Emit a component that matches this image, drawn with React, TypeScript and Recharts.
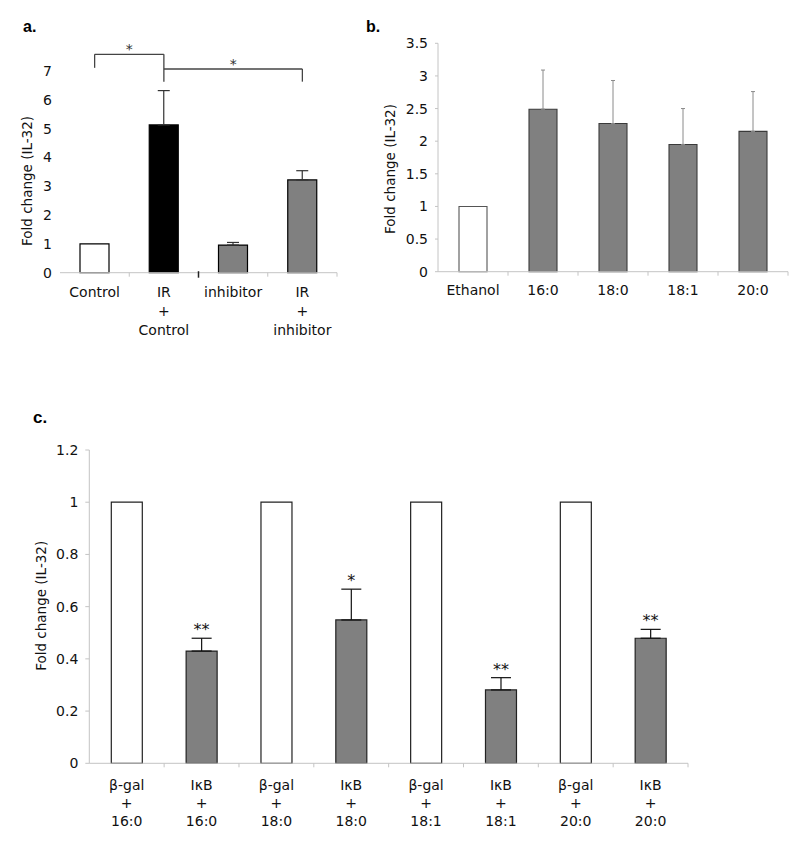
import React from 'react';
import {
  BarChart,
  Bar,
  XAxis,
  YAxis,
  Cell,
  ErrorBar,
  ReferenceLine,
  ReferenceDot,
} from 'recharts';

const FONT = '"DejaVu Sans", "Noto Sans", sans-serif';
const TITLE_FONT = '"Liberation Sans", Arial, sans-serif';

// ---------- Panel a ----------
const A_CATEGORIES = ['Control', 'IR + Control', 'inhibitor', 'IR + inhibitor'];
const A_VALUES = [1.0, 5.13, 0.96, 3.22];
const A_ERRORS = [null, 1.19, 0.09, 0.32];
const A_TICKS = [0, 1, 2, 3, 4, 5, 6, 7];
const A_BRACKETS = [
  { from: 'Control', to: 'IR + Control', level: 7.58, fromEnd: 7.11, toEnd: 6.63, label: '*' },
  { from: 'IR + Control', to: 'IR + inhibitor', level: 7.07, fromEnd: 7.07, toEnd: 6.63, label: '*' },
];

// ---------- Panel b ----------
const B_CATEGORIES = ['Ethanol', '16:0', '18:0', '18:1', '20:0'];
const B_VALUES = [1.0, 2.49, 2.27, 1.95, 2.15];
const B_ERRORS = [null, 0.6, 0.66, 0.55, 0.61];
const B_TICKS = [0, 0.5, 1, 1.5, 2, 2.5, 3, 3.5];

// ---------- Panel c ----------
const C_CATEGORIES = [
  'β-gal + 16:0',
  'IκB + 16:0',
  'β-gal + 18:0',
  'IκB + 18:0',
  'β-gal + 18:1',
  'IκB + 18:1',
  'β-gal + 20:0',
  'IκB + 20:0',
];
const C_VALUES = [1, 0.43, 1, 0.549, 1, 0.281, 1, 0.479];
const C_ERRORS = [null, 0.049, null, 0.118, null, 0.047, null, 0.034];
const C_SIGNIFICANCE = [null, '**', null, '*', null, '**', null, '**'];
const C_TICKS = [0, 0.2, 0.4, 0.6, 0.8, 1, 1.2];

// ---------- styles (kept apart from data) ----------
const A_FILLS = ['#ffffff', '#000000', '#808080', '#808080'];
const B_FILLS = ['#ffffff', '#808080', '#808080', '#808080', '#808080'];
const B_STROKES = ['#555555', '#3a3a3a', '#3a3a3a', '#3a3a3a', '#3a3a3a'];
const C_FILLS = ['#ffffff', '#808080'];

const AXIS_GRAY = '#c4c4c4';

const toRows = (cats: string[], vals: number[], errs: (number | null)[]) =>
  cats.map((name, i) => ({
    name,
    value: vals[i],
    err: errs[i] == null ? null : [0, errs[i] as number],
  }));

const aData = toRows(A_CATEGORIES, A_VALUES, A_ERRORS);
const bData = toRows(B_CATEGORIES, B_VALUES, B_ERRORS);
const cData = toRows(C_CATEGORIES, C_VALUES, C_ERRORS);

function CatTick(props: any) {
  const { x, y, payload, half, margin, lineGap, sepIndex, fontSize } = props;
  const index = props.index ?? payload?.index;
  const raw = String(payload.value);
  const parts = raw.includes(' + ')
    ? raw.split(' + ').flatMap((s: string, i: number) => (i === 0 ? [s] : ['+', s]))
    : [raw];
  const axisY = y - margin;
  const isSep = sepIndex !== undefined && index === sepIndex;
  return (
    <g>
      <line
        x1={x + half}
        x2={x + half}
        y1={isSep ? axisY - 1.5 : axisY}
        y2={axisY + (isSep ? 5 : 4)}
        stroke={isSep ? '#222' : AXIS_GRAY}
        strokeWidth={isSep ? 1.5 : 1}
      />
      <text x={x} y={y} textAnchor="middle" fontSize={fontSize} fontFamily={FONT} fill="#111">
        {parts.map((p: string, i: number) => (
          <tspan key={i} x={x} dy={i === 0 ? '0.71em' : lineGap}>
            {p}
          </tspan>
        ))}
      </text>
    </g>
  );
}

const yTick = { fontSize: 14, fill: '#111', fontFamily: FONT };

function PanelA() {
  const width = 360;
  const height = 345;
  const margin = { top: 71, right: 23, left: 0, bottom: 12.3 };
  const yw = 60;
  const half = (width - margin.right - margin.left - yw) / A_CATEGORIES.length / 2;
  return (
    <BarChart width={width} height={height} data={aData} margin={margin}>
      <XAxis
        dataKey="name"
        height={60}
        interval={0}
        axisLine={{ stroke: AXIS_GRAY }}
        tickLine={false}
        tickSize={0}
        tickMargin={14.3}
        tick={(p: any) => (
          <CatTick {...p} half={half} margin={14.3} lineGap={18.8} sepIndex={1} fontSize={14} />
        )}
      />
      <YAxis
        type="number"
        domain={[0, 7]}
        ticks={A_TICKS}
        interval={0}
        width={yw}
        axisLine={false}
        tickLine={false}
        tickSize={6}
        tickMargin={2}
        tick={yTick}
      />
      <Bar dataKey="value" barSize={29} isAnimationActive={false}>
        {aData.map((d, i) => (
          <Cell key={d.name} fill={A_FILLS[i]} stroke="#000" strokeWidth={1.2} />
        ))}
        <ErrorBar dataKey="err" direction="y" width={6} stroke="#333" strokeWidth={1.2} isAnimationActive={false} />
      </Bar>
      {A_BRACKETS.map((b, i) => (
        <ReferenceLine
          key={`h${i}`}
          segment={[
            { x: b.from, y: b.level },
            { x: b.to, y: b.level },
          ]}
          stroke="#444"
          strokeWidth={1.3}
          ifOverflow="visible"
          label={{ value: b.label, position: 'top', offset: 0, fontSize: 14, fill: '#333', fontFamily: FONT }}
        />
      ))}
      {A_BRACKETS.filter((b) => b.fromEnd !== b.level).map((b, i) => (
        <ReferenceLine
          key={`l${i}`}
          segment={[
            { x: b.from, y: b.level },
            { x: b.from, y: b.fromEnd },
          ]}
          stroke="#444"
          strokeWidth={1.3}
          ifOverflow="visible"
        />
      ))}
      {A_BRACKETS.map((b, i) => (
        <ReferenceLine
          key={`r${i}`}
          segment={[
            { x: b.to, y: b.level },
            { x: b.to, y: b.toEnd },
          ]}
          stroke="#444"
          strokeWidth={1.3}
          ifOverflow="visible"
        />
      ))}
    </BarChart>
  );
}

function PanelB() {
  const width = 430;
  const height = 345;
  const margin = { top: 43.3, right: 12, left: 0, bottom: 13.3 };
  const yw = 68;
  const half = (width - margin.right - margin.left - yw) / B_CATEGORIES.length / 2;
  return (
    <BarChart width={width} height={height} data={bData} margin={margin}>
      <XAxis
        dataKey="name"
        height={60}
        interval={0}
        axisLine={{ stroke: AXIS_GRAY }}
        tickLine={false}
        tickSize={0}
        tickMargin={13.3}
        tick={(p: any) => <CatTick {...p} half={half} margin={13.3} lineGap={18.8} fontSize={14} />}
      />
      <YAxis
        type="number"
        domain={[0, 3.5]}
        ticks={B_TICKS}
        interval={0}
        width={yw}
        axisLine={{ stroke: AXIS_GRAY }}
        tickLine={{ stroke: AXIS_GRAY }}
        tickSize={3}
        tickMargin={7}
        tick={yTick}
      />
      <Bar dataKey="value" barSize={28} isAnimationActive={false}>
        {bData.map((d, i) => (
          <Cell key={d.name} fill={B_FILLS[i]} stroke={B_STROKES[i]} strokeWidth={1.1} />
        ))}
        <ErrorBar dataKey="err" direction="y" width={2} stroke="#8a8a8a" strokeWidth={1} isAnimationActive={false} />
      </Bar>
    </BarChart>
  );
}

function PanelC() {
  const width = 800;
  const height = 441;
  const margin = { top: 50, right: 112, left: 0, bottom: 7.7 };
  const yw = 89.3;
  const half = (width - margin.right - margin.left - yw) / C_CATEGORIES.length / 2;
  return (
    <BarChart width={width} height={height} data={cData} margin={margin}>
      <XAxis
        dataKey="name"
        height={70}
        interval={0}
        axisLine={{ stroke: AXIS_GRAY }}
        tickLine={false}
        tickSize={0}
        tickMargin={16.5}
        tick={(p: any) => <CatTick {...p} half={half} margin={16.5} lineGap={18.3} fontSize={14} />}
      />
      <YAxis
        type="number"
        domain={[0, 1.2]}
        ticks={C_TICKS}
        interval={0}
        width={yw}
        axisLine={{ stroke: AXIS_GRAY }}
        tickLine={{ stroke: AXIS_GRAY }}
        tickSize={4}
        tickMargin={7}
        tick={yTick}
      />
      <Bar dataKey="value" barSize={31} isAnimationActive={false}>
        {cData.map((d, i) => (
          <Cell key={d.name} fill={C_FILLS[i % 2]} stroke="#222" strokeWidth={1.2} />
        ))}
        <ErrorBar dataKey="err" direction="y" width={10} stroke="#111" strokeWidth={1.2} isAnimationActive={false} />
      </Bar>
      {cData.map((d, i) =>
        C_SIGNIFICANCE[i] ? (
          <ReferenceDot
            key={`s${i}`}
            x={d.name}
            y={d.value + (C_ERRORS[i] ?? 0)}
            r={0}
            fill="none"
            stroke="none"
            ifOverflow="visible"
            label={{ value: C_SIGNIFICANCE[i] as string, position: 'top', offset: 3, fontSize: 16, fill: '#111', fontFamily: FONT }}
          />
        ) : null
      )}
    </BarChart>
  );
}

export default function App() {
  return (
    <div style={{ position: 'absolute', left: 0, top: 0, width: 800, height: 841, background: '#fff' }}>
      <svg width={800} height={841} style={{ position: 'absolute', left: 0, top: 0 }}>
        <text x={23} y={31.7} fontFamily={TITLE_FONT} fontWeight="bold" fontSize={16} fill="#000">a.</text>
        <text x={366} y={31.7} fontFamily={TITLE_FONT} fontWeight="bold" fontSize={16} fill="#000">b.</text>
        <text x={33} y={423.3} fontFamily={TITLE_FONT} fontWeight="bold" fontSize={17} fill="#000">c.</text>
        <text x={27} y={181} transform="rotate(-90 27 181)" textAnchor="middle" dominantBaseline="central" fontFamily={FONT} fontSize={13.5} fill="#111">Fold change (IL-32)</text>
        <text x={389.5} y={169} transform="rotate(-90 389.5 169)" textAnchor="middle" dominantBaseline="central" fontFamily={FONT} fontSize={13.5} fill="#111">Fold change (IL-32)</text>
        <text x={41} y={605.8} transform="rotate(-90 41 605.8)" textAnchor="middle" dominantBaseline="central" fontFamily={FONT} fontSize={13.5} fill="#111">Fold change (IL-32)</text>
      </svg>
      <div style={{ position: 'absolute', left: 0, top: 0 }}>
        <PanelA />
      </div>
      <div style={{ position: 'absolute', left: 370, top: 0 }}>
        <PanelB />
      </div>
      <div style={{ position: 'absolute', left: 0, top: 400 }}>
        <PanelC />
      </div>
    </div>
  );
}
